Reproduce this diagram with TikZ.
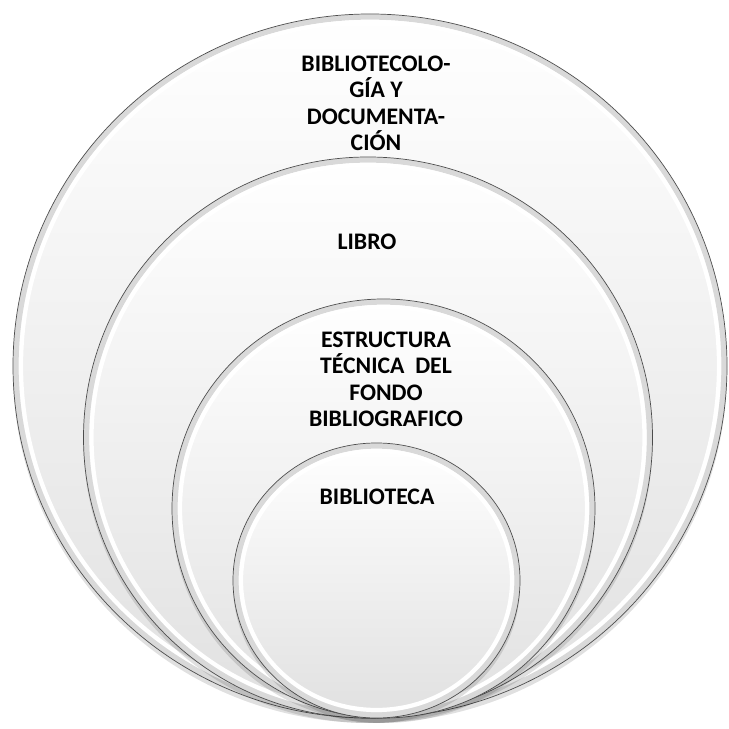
\documentclass[tikz,border=0pt]{standalone}
\usepackage{fontspec}
\setmainfont{Carlito}
\begin{document}
\begin{tikzpicture}
    \tikzstyle{shell} = [top color = white, bottom color = gray!24]
    \tikzstyle{band} = [draw = gray!30, line width = 3pt]
    \tikzstyle{shine} = [draw = white, line width = 2.4pt]
    \tikzstyle{rim} = [draw = gray!60!black, line width = 0.4pt]
    \tikzstyle{ringtext} = [align = center, font = \bfseries\fontsize{13.5}{15.1}\selectfont]

    \useasboundingbox (0,0) rectangle (14.58,14.58);

    % shells from outside in: centre x / centre y / x radius / y radius
    \foreach \cx/\cy/\rx/\ry in {7.40/7.26/7.14/7.04, 7.36/5.83/5.69/5.61, 7.67/4.41/4.23/4.19, 7.53/2.97/2.87/2.75}{
        \fill[black, opacity = 0.12] (\cx, \cy - 0.1) ellipse [x radius = \rx, y radius = \ry];
        \shade[shell] (\cx, \cy) ellipse [x radius = \rx, y radius = \ry];
        \draw[band] (\cx, \cy) ellipse [x radius = \rx - 0.06, y radius = \ry - 0.06];
        \draw[shine] (\cx, \cy) ellipse [x radius = \rx - 0.16, y radius = \ry - 0.16];
        \draw[rim] (\cx, \cy) ellipse [x radius = \rx, y radius = \ry];
    }

    \node[ringtext] (bibliotecologia) at (7.52, 12.51) {BIBLIOTECOLO-\\GÍA Y\\DOCUMENTA-\\CIÓN};
    \node[ringtext] (libro) at (7.34, 9.74) {LIBRO};
    \node[ringtext] (estructura) at (7.72, 6.99) {ESTRUCTURA\\TÉCNICA\ \ DEL\\FONDO\\BIBLIOGRAFICO};
    \node[ringtext] (biblioteca) at (7.54, 4.64) {BIBLIOTECA};

\end{tikzpicture}
\end{document}
